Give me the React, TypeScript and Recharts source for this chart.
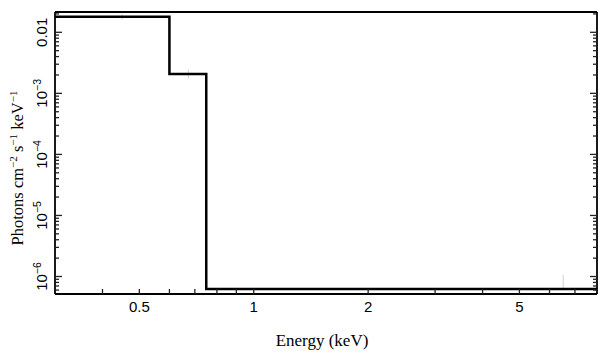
import React from "react";
import { ComposedChart, Line, Scatter, ErrorBar, XAxis, YAxis } from "recharts";

// Model step (keV, photons cm^-2 s^-1 keV^-1)
const modelEnergy = [0.3, 0.6, 0.75, 8];
const modelFlux = [0.018, 0.00207, 6.24e-7, 6.24e-7];

// Faint data points with error bars
const dataEnergy = [0.45, 0.673, 6.52];
const dataFlux = [0.0175, 0.00205, 8.2e-7];
const dataErrLow = [0.0015, 0.0003, 1.8e-7];
const dataErrHigh = [0.0025, 0.0004, 2.5e-7];

const xMajorTicks = [0.5, 1, 2, 5];
const xMinorTicks = [0.4, 0.6, 0.7, 0.8, 0.9, 3, 4, 6, 7];
const yMajorTicks = [1e-6, 1e-5, 1e-4, 1e-3, 1e-2];
const yMajorLabels = ["10|-6", "10|-5", "10|-4", "10|-3", "0.01"];

const X_DOMAIN = [0.3, 8];
const Y_DOMAIN = [5.17e-7, 0.0215];

const yMinorTicks: number[] = [];
for (let e = -7; e <= -2; e++) {
  for (let m = 2; m <= 9; m++) {
    const v = m * Math.pow(10, e);
    if (v > Y_DOMAIN[0] && v < Y_DOMAIN[1]) yMinorTicks.push(Number(v.toPrecision(3)));
  }
}
const xTicks = [...xMajorTicks, ...xMinorTicks].sort((a, b) => a - b);
const yTicks = [...yMajorTicks, ...yMinorTicks].sort((a, b) => a - b);

const modelData = modelEnergy.map((x, i) => ({ x, y: modelFlux[i] }));
const pointData = dataEnergy.map((x, i) => ({
  x,
  y: dataFlux[i],
  err: [dataErrLow[i], dataErrHigh[i]],
}));

const TICK_COLOR = "#222";
const SANS = "Liberation Sans, Arial, Helvetica, sans-serif";
const SERIF = "Liberation Serif, Times New Roman, serif";

const isMajorY = (v: number) => yMajorTicks.some((m) => Math.abs(m - v) / m < 1e-6);
const isMajorX = (v: number) => xMajorTicks.includes(v);

const BottomTick = (props: any) => {
  const { x, y, payload } = props;
  const v = payload.value;
  return (
    <g>
      <line x1={x} x2={x} y1={y} y2={y - 5} stroke={TICK_COLOR} strokeWidth={1.3} />
      {isMajorX(v) && (
        <text x={x} y={y + 18} textAnchor="middle" fontFamily={SANS} fontSize={15} fill="#000">
          {String(v)}
        </text>
      )}
    </g>
  );
};

const TopTick = (props: any) => {
  const { x, y } = props;
  return <line x1={x} x2={x} y1={y} y2={y + 5} stroke={TICK_COLOR} strokeWidth={1.3} />;
};

const LeftTick = (props: any) => {
  const { x, y, payload } = props;
  const v = payload.value;
  const major = isMajorY(v);
  const idx = yMajorTicks.findIndex((m) => Math.abs(m - v) / m < 1e-6);
  const label = idx >= 0 ? yMajorLabels[idx] : "";
  const lx = x - 8;
  let content: React.ReactNode = null;
  if (major) {
    if (label.includes("|")) {
      const [base, exp] = label.split("|");
      content = (
        <text
          x={lx}
          y={y}
          transform={`rotate(-90, ${lx}, ${y})`}
          textAnchor="middle"
          fontFamily={SANS}
          fontSize={15}
          fill="#000"
        >
          <tspan>{base}</tspan>
          <tspan dy={-6} fontSize={10.5}>
            {exp.replace("-", "\u2212")}
          </tspan>
        </text>
      );
    } else {
      content = (
        <text
          x={lx}
          y={y}
          transform={`rotate(-90, ${lx}, ${y})`}
          textAnchor="middle"
          fontFamily={SANS}
          fontSize={15}
          fill="#000"
        >
          {label}
        </text>
      );
    }
  }
  return (
    <g>
      <line x1={x} x2={x + (major ? 7 : 4)} y1={y} y2={y} stroke={TICK_COLOR} strokeWidth={1.3} />
      {content}
    </g>
  );
};

const RightTick = (props: any) => {
  const { x, y, payload } = props;
  const major = isMajorY(payload.value);
  return <line x1={x} x2={x - (major ? 7 : 4)} y1={y} y2={y} stroke={TICK_COLOR} strokeWidth={1.3} />;
};

const NoShape = () => <g />;

const YTitle = () => {
  const cx = 23;
  const cy = 168;
  return (
    <text
      x={cx}
      y={cy}
      transform={`rotate(-90, ${cx}, ${cy})`}
      textAnchor="middle"
      fontFamily={SERIF}
      fontSize={16.5}
      fill="#000"
    >
      <tspan>Photons cm</tspan>
      <tspan dy={-6} fontSize={11}>{"\u22122"}</tspan>
      <tspan dy={6}> s</tspan>
      <tspan dy={-6} fontSize={11}>{"\u22121"}</tspan>
      <tspan dy={6}> keV</tspan>
      <tspan dy={-6} fontSize={11}>{"\u22121"}</tspan>
    </text>
  );
};

export default function App() {
  return (
    <div style={{ position: "absolute", left: 0, top: 0, width: 609, height: 357, background: "#fff" }}>
      <ComposedChart width={609} height={357} margin={{ top: 0, right: 0, bottom: 0, left: 0 }}>
        <XAxis
          xAxisId={0}
          dataKey="x"
          type="number"
          scale="log"
          domain={X_DOMAIN}
          allowDataOverflow
          ticks={xTicks}
          interval={0}
          height={63}
          tickSize={0}
          tickMargin={0}
          tickLine={false}
          axisLine={{ stroke: "#000", strokeWidth: 1.8 }}
          tick={<BottomTick />}
        />
        <XAxis
          xAxisId="top"
          orientation="top"
          type="number"
          scale="log"
          domain={X_DOMAIN}
          allowDataOverflow
          ticks={xTicks}
          interval={0}
          height={12}
          tickSize={0}
          tickMargin={0}
          tickLine={false}
          axisLine={{ stroke: "#000", strokeWidth: 1.8 }}
          tick={<TopTick />}
        />
        <YAxis
          yAxisId={0}
          type="number"
          scale="log"
          domain={Y_DOMAIN}
          allowDataOverflow
          ticks={yTicks}
          interval={0}
          width={55}
          tickSize={0}
          tickMargin={0}
          tickLine={false}
          axisLine={{ stroke: "#000", strokeWidth: 1.8 }}
          tick={<LeftTick />}
        />
        <YAxis
          yAxisId="right"
          orientation="right"
          type="number"
          scale="log"
          domain={Y_DOMAIN}
          allowDataOverflow
          ticks={yTicks}
          interval={0}
          width={12}
          tickSize={0}
          tickMargin={0}
          tickLine={false}
          axisLine={{ stroke: "#000", strokeWidth: 1.8 }}
          tick={<RightTick />}
        />
        <Scatter data={pointData} dataKey="y" shape={<NoShape />} isAnimationActive={false}>
          <ErrorBar dataKey="err" direction="y" stroke="#d9d9d9" strokeWidth={1.2} width={0} isAnimationActive={false} />
        </Scatter>
        <Line
          data={modelData}
          dataKey="y"
          type="stepAfter"
          stroke="#000"
          strokeWidth={2.5}
          dot={false}
          activeDot={false}
          isAnimationActive={false}
        />
        <YTitle />
        <text x={322} y={346} textAnchor="middle" fontFamily={SERIF} fontSize={17} fill="#000">
          Energy (keV)
        </text>
      </ComposedChart>
    </div>
  );
}
